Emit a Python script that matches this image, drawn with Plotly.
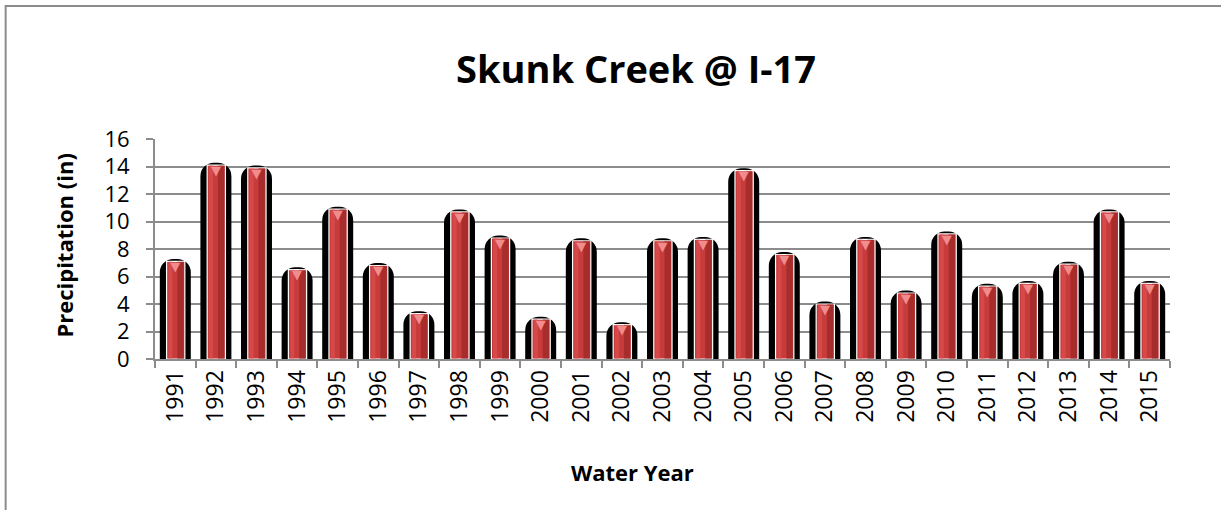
import plotly.graph_objects as go

years = [str(y) for y in range(1991, 2016)]
precip = [7.1, 14.1, 13.9, 6.5, 10.9, 6.8, 3.3, 10.7, 8.8, 2.9, 8.6, 2.5, 8.6,
          8.7, 13.7, 7.6, 4.0, 8.7, 4.8, 9.1, 5.3, 5.5, 6.9, 10.7, 5.5]
y_ticks = [0, 2, 4, 6, 8, 10, 12, 14, 16]

W, H = 1221, 510
L, R, T, B = 154.5, 50.5, 139, 151
PW, PH = W - L - R, H - T - B
FONT = "'Open Sans', Lato, Arial, sans-serif"


def px_x(px):
    return (px - L) / PW


def px_y(py):
    return (H - B - py) / PH


fig = go.Figure()

# black rounded "shadow" body
fig.add_trace(go.Bar(
    x=years, y=precip, width=0.64,
    marker=dict(color="#000000", line=dict(color="#000000", width=5), cornerradius=11),
    hoverinfo="skip", showlegend=False))
# red cylinder face
fig.add_trace(go.Bar(
    x=years, y=precip, width=0.45, offset=-0.215,
    marker=dict(color="#c73b3b", line=dict(color="#ffffff", width=1.2)),
    showlegend=False, hovertemplate="%{x}: %{y} in<extra></extra>"))
# darker right shading
fig.add_trace(go.Bar(
    x=years, y=precip, width=0.16, offset=0.05,
    marker=dict(color="rgba(110,20,20,0.35)", line=dict(width=0)),
    hoverinfo="skip", showlegend=False))
# brighter left highlight
fig.add_trace(go.Bar(
    x=years, y=precip, width=0.1, offset=-0.17,
    marker=dict(color="rgba(235,90,90,0.45)", line=dict(width=0)),
    hoverinfo="skip", showlegend=False))
# pink triangle cap
fig.add_trace(go.Scatter(
    x=years, y=precip, mode="text", text=["▼"] * len(years),
    textposition="bottom center",
    textfont=dict(color="#f08c8c", size=13, family="DejaVu Sans"),
    hoverinfo="skip", showlegend=False))

fig.update_layout(
    width=W, height=H,
    barmode="overlay",
    paper_bgcolor="white", plot_bgcolor="white",
    margin=dict(l=L, r=R, t=T, b=B, autoexpand=False),
    font=dict(family=FONT, color="#000000"),
    title=dict(text="<b>Skunk Creek @ I-17</b>", x=636 / W, xanchor="center",
               y=1 - 70 / H, yanchor="middle", font=dict(size=38, family=FONT)),
    xaxis=dict(
        type="category", range=[-0.5, len(years) - 0.5],
        showline=True, linecolor="#8c8c8c", linewidth=2,
        ticks="outside", tickson="boundaries", ticklen=7, tickcolor="#8c8c8c", tickwidth=2,
        tickangle=-90, tickfont=dict(size=23, family=FONT),
        showgrid=False, fixedrange=True,
    ),
    yaxis=dict(
        range=[0, 16], tickvals=y_ticks, showline=True, linecolor="#8c8c8c", linewidth=2,
        ticks="outside", ticklen=7, tickcolor="#8c8c8c", tickwidth=2,
        tickfont=dict(size=22, family=FONT), ticklabelstandoff=12,
        showgrid=True, gridcolor="#8c8c8c", gridwidth=2,
        zeroline=False, fixedrange=True,
    ),
    annotations=[
        dict(text="<b>Water Year</b>", xref="paper", yref="paper",
             x=px_x(632), y=px_y(472), xanchor="center", yanchor="middle",
             showarrow=False, font=dict(size=22, family=FONT)),
        dict(text="<b>Precipitation (in)</b>", xref="paper", yref="paper",
             x=px_x(63), y=px_y(246), xanchor="center", yanchor="middle",
             textangle=-90, showarrow=False, font=dict(size=22, family=FONT)),
    ],
    shapes=[dict(type="rect", xref="paper", yref="paper",
                 x0=px_x(5), x1=px_x(W + 50),
                 y0=px_y(H + 50), y1=px_y(6),
                 line=dict(color="#8c8c8c", width=2), fillcolor="rgba(0,0,0,0)",
                 layer="below")],
)

fig.write_html("out.html", config={"displayModeBar": False},
               post_script="document.body.style.margin='0';document.body.style.overflow='hidden';")
